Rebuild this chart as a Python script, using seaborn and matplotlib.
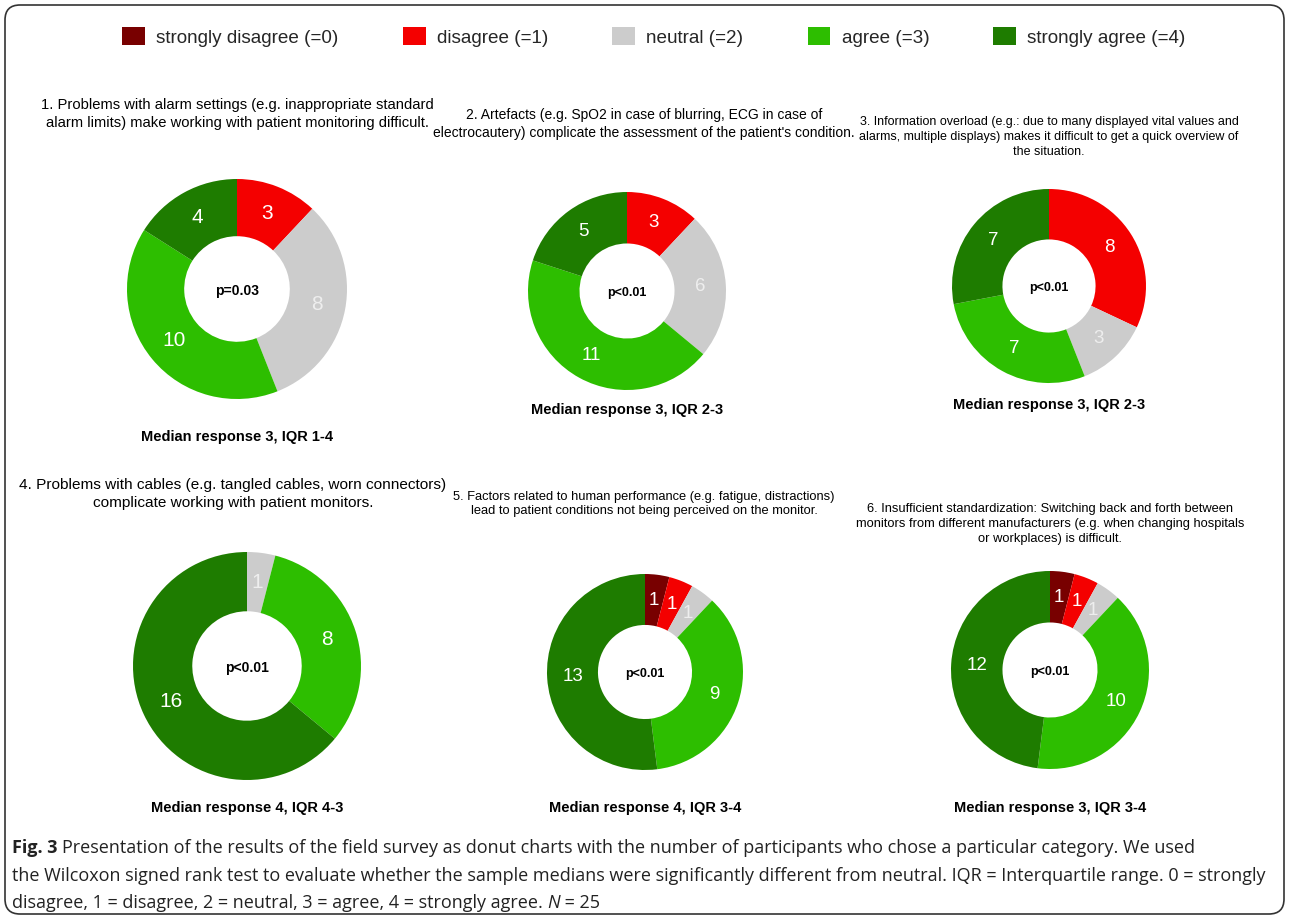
# donut charts of the field survey answers (6 questions, N = 25)

import numpy as np
import seaborn as sns
import matplotlib.pyplot as plt
from matplotlib.patches import Patch, FancyBboxPatch

# answer categories
categories = [
    "strongly disagree (=0)",
    "disagree (=1)",
    "neutral (=2)",
    "agree (=3)",
    "strongly agree (=4)"
]

# number of participants per category, one list per question
q1_counts = [0, 3, 8, 10, 4]
q2_counts = [0, 3, 6, 11, 5]
q3_counts = [0, 8, 3, 7, 7]
q4_counts = [0, 0, 1, 8, 16]
q5_counts = [1, 1, 1, 9, 13]
q6_counts = [1, 1, 1, 10, 12]
counts = [q1_counts, q2_counts, q3_counts, q4_counts, q5_counts, q6_counts]

# wilcoxon test results and medians
p_labels = ["p=0.03", "p<0.01", "p<0.01", "p<0.01", "p<0.01", "p<0.01"]
medians = [
    "Median response 3, IQR 1-4",
    "Median response 3, IQR 2-3",
    "Median response 3, IQR 2-3",
    "Median response 4, IQR 4-3",
    "Median response 4, IQR 3-4",
    "Median response 3, IQR 3-4"
]

questions = [
    "1. Problems with alarm settings (e.g. inappropriate standard\nalarm limits) make working with patient monitoring difficult.",
    "2. Artefacts (e.g. SpO2 in case of blurring, ECG in case of\nelectrocautery) complicate the assessment of the patient's condition.",
    "3. Information overload (e.g.: due to many displayed vital values and\nalarms, multiple displays) makes it difficult to get a quick overview of\nthe situation.",
    "4. Problems with cables (e.g. tangled cables, worn connectors)\ncomplicate working with patient monitors.",
    "5. Factors related to human performance (e.g. fatigue, distractions)\nlead to patient conditions not being perceived on the monitor.",
    "6. Insufficient standardization: Switching back and forth between\nmonitors from different manufacturers (e.g. when changing hospitals\nor workplaces) is difficult."
]

caption_lines = [
    "Presentation of the results of the field survey as donut charts with the number of participants who chose a particular category. We used",
    "the Wilcoxon signed rank test to evaluate whether the sample medians were significantly different from neutral. IQR = Interquartile range. 0 = strongly",
    "disagree, 1 = disagree, 2 = neutral, 3 = agree, 4 = strongly agree. "
]

# styling
sns.set_theme(style="white")
plt.rcParams["font.family"] = ["Liberation Sans", "DejaVu Sans"]

palette = sns.color_palette(["#780000", "#f40000", "#cccccc", "#2dbe00", "#1e7c00"])
label_colors = ["white", "white", "#eeeeee", "white", "white"]

W, H = 1289, 919
fig = plt.figure(figsize=(W / 100, H / 100), dpi=100)

# layout in pixels: (centre x, centre y, outer radius, number size, p size)
donut_layout = [
    (237, 289, 110, 15, 10),
    (627, 291, 99, 13.5, 9),
    (1049, 286, 97, 13.5, 9),
    (247, 666, 114, 15, 10),
    (645, 672, 98, 13.5, 9),
    (1050, 670, 99, 13.5, 9)
]
# title centre (x, y), title font size and median text y
title_pos = [(237, 114), (644, 124), (1049, 137), (233, 494), (644, 504), (1050, 524)]
title_size = [10.6, 10, 9, 11.1, 9.3, 9.3]
median_y = [437, 410, 405, 808, 808, 808]


def fx(x):
    return x / W


def fy(y):
    return 1 - y / H


for i in range(6):
    cx, cy, r, num_size, p_size = donut_layout[i]
    ax = fig.add_axes([fx(cx - r), fy(cy + r), 2 * r / W, 2 * r / H])
    wedges, _ = ax.pie(
        counts[i],
        colors=palette,
        startangle=90,
        counterclock=False,
        wedgeprops=dict(width=0.52, linewidth=0)
    )
    ax.set_xlim(-1, 1)
    ax.set_ylim(-1, 1)
    ax.set_aspect("equal")
    ax.axis("off")

    # value labels in the middle of the ring
    for w, n, c in zip(wedges, counts[i], label_colors):
        if n == 0:
            continue
        ang = np.deg2rad((w.theta1 + w.theta2) / 2)
        ax.text(0.74 * np.cos(ang), 0.74 * np.sin(ang), str(n),
                ha="center", va="center", color=c, fontsize=num_size)

    ax.text(0, -0.02, p_labels[i], ha="center", va="center",
            fontsize=p_size, fontweight="bold", color="black")

    tx, ty = title_pos[i]
    fig.text(fx(tx), fy(ty), questions[i], ha="center", va="center",
             multialignment="center", fontsize=title_size[i], linespacing=1.3, color="black")
    fig.text(fx(cx), fy(median_y[i]), medians[i], ha="center", va="center",
             fontsize=10.5, fontweight="bold", color="black")

# legend on top
handles = [Patch(facecolor=palette[k], edgecolor="none", label=categories[k]) for k in range(5)]
fig.legend(handles=handles, loc="center", bbox_to_anchor=(fx(654), fy(37)), ncol=5,
           frameon=False, prop={"family": ["Liberation Sans", "DejaVu Sans"], "size": 13.6},
           handlelength=1.2, handleheight=1.05, columnspacing=3.4, handletextpad=0.6)

# caption below the charts
cap_font = ["Open Sans", "DejaVu Sans"]
cap_color = "#222222"
renderer = fig.canvas.get_renderer()


def write_run(x, y, pieces):
    # draw text pieces one after another on the same line
    for txt, weight, style in pieces:
        t = fig.text(fx(x), fy(y), txt, ha="left", va="center", fontsize=13.0,
                     family=cap_font, fontweight=weight, fontstyle=style, color=cap_color)
        bb = t.get_window_extent(renderer=renderer)
        x = x + bb.width


write_run(12, 848, [("Fig. 3 ", "bold", "normal"), (caption_lines[0], "normal", "normal")])
write_run(12, 876, [(caption_lines[1], "normal", "normal")])
write_run(12, 903, [(caption_lines[2], "normal", "normal"), ("N", "normal", "italic"), (" = 25", "normal", "normal")])

# rounded frame around everything
frame = FancyBboxPatch((0.05, 0.05), W / 100 - 0.1, H / 100 - 0.1,
                       boxstyle="round,pad=0,rounding_size=0.15",
                       transform=fig.dpi_scale_trans, facecolor="none",
                       edgecolor="#333333", linewidth=1.2)
fig.patches.append(frame)

fig.savefig("out.png", dpi=100)
